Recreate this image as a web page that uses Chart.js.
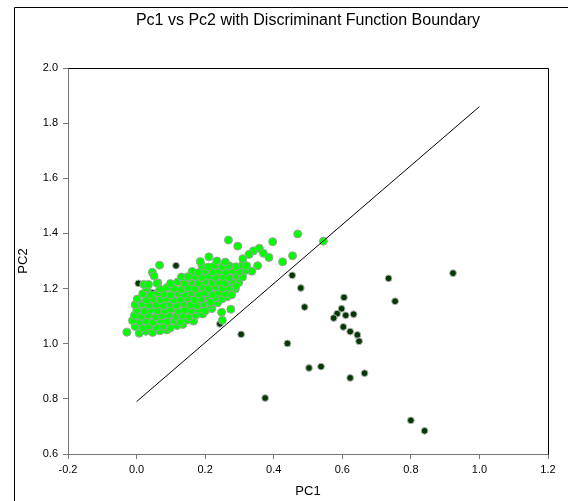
<!DOCTYPE html>
<html>
<head>
<meta charset="utf-8">
<script src="https://cdn.jsdelivr.net/npm/chart.js@4.4.0/dist/chart.umd.min.js"></script>
<style>
html, body { margin: 0; padding: 0; background: #fff; overflow: hidden; }
</style>
</head>
<body>
<canvas id="pcChart" width="568" height="501"></canvas>
<script>
// axis ticks
var xTicks = [-0.2, 0.0, 0.2, 0.4, 0.6, 0.8, 1.0, 1.2];
var yTicks = [0.6, 0.8, 1.0, 1.2, 1.4, 1.6, 1.8, 2.0];

// discriminant function boundary (end points)
var boundaryLine = [[0.0, 0.79], [1.0, 1.86]];

var groupGreen = [
  [-0.028,1.042],[0.008,1.038],[0.027,1.045],[0.047,1.041],[0.068,1.047],[0.088,1.05],
  [-0.004,1.062],[0.018,1.058],[0.036,1.064],[0.057,1.06],[0.079,1.063],[0.098,1.057],[0.118,1.066],[0.135,1.07],
  [-0.012,1.084],[0.009,1.079],[0.029,1.083],[0.049,1.078],[0.071,1.085],[0.09,1.08],[0.11,1.084],[0.128,1.079],[0.148,1.086],[0.166,1.082],
  [-0.006,1.103],[0.014,1.099],[0.034,1.104],[0.056,1.098],[0.074,1.102],[0.094,1.105],[0.115,1.099],[0.133,1.103],[0.154,1.098],[0.173,1.104],[0.193,1.108],
  [0.001,1.122],[0.022,1.118],[0.041,1.124],[0.061,1.119],[0.082,1.121],[0.101,1.126],[0.121,1.118],[0.141,1.123],[0.16,1.12],[0.181,1.125],[0.2,1.119],[0.219,1.127],
  [-0.004,1.141],[0.016,1.145],[0.037,1.139],[0.057,1.142],[0.078,1.138],[0.097,1.144],[0.117,1.14],[0.137,1.146],[0.156,1.141],[0.177,1.138],[0.197,1.145],[0.216,1.141],[0.236,1.148],
  [0.002,1.162],[0.028,1.158],[0.048,1.163],[0.069,1.16],[0.088,1.165],[0.108,1.158],[0.129,1.162],[0.149,1.166],[0.169,1.159],[0.189,1.163],[0.209,1.16],[0.229,1.167],[0.249,1.162],[0.264,1.17],
  [0.018,1.181],[0.04,1.178],[0.061,1.184],[0.079,1.18],[0.1,1.176],[0.121,1.183],[0.14,1.179],[0.161,1.185],[0.18,1.18],[0.2,1.184],[0.221,1.178],[0.24,1.186],[0.259,1.182],
  [0.03,1.201],[0.068,1.198],[0.089,1.204],[0.109,1.2],[0.131,1.196],[0.15,1.203],[0.171,1.199],[0.191,1.205],[0.21,1.2],[0.231,1.206],[0.25,1.201],[0.27,1.204],[0.288,1.198],
  [0.062,1.221],[0.099,1.218],[0.12,1.224],[0.139,1.219],[0.161,1.225],[0.18,1.22],[0.2,1.226],[0.221,1.221],[0.239,1.224],[0.259,1.219],[0.279,1.226],[0.298,1.222],
  [0.131,1.242],[0.152,1.238],[0.171,1.244],[0.19,1.24],[0.211,1.246],[0.23,1.241],[0.251,1.244],[0.27,1.239],[0.291,1.245],[0.309,1.242],
  [0.162,1.262],[0.181,1.258],[0.2,1.265],[0.221,1.26],[0.241,1.264],[0.26,1.259],[0.281,1.265],[0.3,1.261],[0.319,1.266],[0.336,1.263],
  [0.191,1.281],[0.21,1.278],[0.229,1.284],[0.249,1.279],[0.27,1.283],[0.29,1.279],[0.309,1.285],
  [0.186,1.298],[0.211,1.315],[0.234,1.3],[0.259,1.296],
  // loose points
  [0.067,1.285],[0.046,1.259],[0.051,1.246],[0.021,1.215],[0.035,1.215],[0.060,1.219],[0.150,1.243],
  [0.268,1.376],[0.295,1.354],[0.397,1.370],[0.470,1.398],[0.341,1.337],[0.358,1.346],[0.328,1.324],
  [0.370,1.328],[0.386,1.313],[0.310,1.308],[0.426,1.297],[0.455,1.319],[0.353,1.283],[0.321,1.283],
  [0.545,1.372],[0.277,1.177],[0.290,1.209],[0.248,1.114],[0.275,1.125],[0.214,1.150],[0.25,1.085]
];

// group 2 (dark green)
var groupDark = [
  [0.454,1.248],[0.479,1.202],[0.490,1.133],[0.440,1.001],[0.503,0.912],[0.538,0.917],
  [0.605,1.168],[0.598,1.127],[0.585,1.109],[0.575,1.093],[0.610,1.103],[0.633,1.107],
  [0.603,1.061],[0.623,1.044],[0.644,1.032],[0.649,1.009],[0.623,0.876],[0.665,0.893],
  [0.735,1.237],[0.754,1.154],[0.923,1.256],[0.800,0.722],[0.840,0.684],[0.375,0.803],
  [0.305,1.034],[0.115,1.283],[0.005,1.219],[0.045,1.185],[0.243,1.072]
];

function toPoints(arr) {
  return arr.map(function (p) { return { x: p[0], y: p[1] }; });
}

var framePlugin = {
  id: 'frame',
  afterLayout: function (chart) {
    // centre the title over the plot area
    var t = chart.titleBlock, a = chart.chartArea;
    if (t) { t.left = a.left; t.right = a.right; }
  },
  beforeDraw: function (chart) {
    var c = chart.ctx;
    c.save();
    c.fillStyle = '#fff';
    c.fillRect(0, 0, chart.width, chart.height);
    c.strokeStyle = '#000';
    c.lineWidth = 1;
    c.beginPath();
    c.moveTo(14.5, chart.height);
    c.lineTo(14.5, 7.5);
    c.lineTo(chart.width, 7.5);
    c.stroke();
    c.restore();
  },
  afterDraw: function (chart) {
    var c = chart.ctx, a = chart.chartArea;
    c.save();
    c.strokeStyle = '#000';
    c.lineWidth = 1;
    c.beginPath();
    c.moveTo(Math.round(a.left) + 0.5, Math.round(a.top) + 0.5);
    c.lineTo(Math.round(a.right) + 0.5, Math.round(a.top) + 0.5);
    c.lineTo(Math.round(a.right) + 0.5, Math.round(a.bottom) + 0.5);
    c.stroke();
    c.restore();
  }
};

var fontFam = "'Liberation Sans', Arial, sans-serif";

var ctx = document.getElementById('pcChart');
var pcChart = new Chart(ctx, {
  type: 'scatter',
  data: {
    datasets: [{
      label: 'Boundary',
      data: toPoints(boundaryLine),
      showLine: true,
      borderColor: '#000',
      borderWidth: 1,
      pointRadius: 0,
      order: 0
    }, {
      label: 'Group 1',
      data: toPoints(groupGreen),
      backgroundColor: '#00ff00',
      borderColor: '#a0a0a0',
      borderWidth: 1,
      pointRadius: 4,
      order: 1
    }, {
      label: 'Group 2',
      data: toPoints(groupDark),
      backgroundColor: '#063806',
      borderColor: '#b8b8b8',
      borderWidth: 1,
      pointRadius: 3.4,
      order: 2
    }]
  },
  options: {
    responsive: false,
    animation: false,
    devicePixelRatio: 1,
    layout: { padding: { left: 0, right: 20, top: 0, bottom: 0 } },
    plugins: {
      legend: { display: false },
      tooltip: { enabled: false },
      title: {
        display: true,
        text: 'Pc1 vs Pc2 with Discriminant Function Boundary',
        color: '#000',
        font: { family: fontFam, size: 16, weight: 'normal' },
        padding: { top: 11, bottom: 37.8 }
      }
    },
    scales: {
      x: {
        type: 'linear',
        min: -0.2,
        max: 1.2,
        afterBuildTicks: function (s) { s.ticks = xTicks.map(function (v) { return { value: v }; }); },
        afterFit: function (s) { s.height = 47; },
        ticks: {
          color: '#000',
          font: { family: fontFam, size: 11 },
          padding: 4,
          maxRotation: 0,
          autoSkip: false,
          callback: function (v) { return Number(v).toFixed(1); }
        },
        grid: { drawOnChartArea: false, tickLength: 5, color: '#777' },
        border: { color: '#777', width: 1 },
        title: {
          display: true,
          text: 'PC1',
          color: '#000',
          font: { family: fontFam, size: 13 },
          padding: { top: 0, bottom: 2 }
        }
      },
      y: {
        type: 'linear',
        min: 0.6,
        max: 2.0,
        afterBuildTicks: function (s) { s.ticks = yTicks.map(function (v) { return { value: v }; }); },
        afterFit: function (s) { s.width = 68; },
        ticks: {
          color: '#000',
          font: { family: fontFam, size: 11 },
          padding: 5,
          autoSkip: false,
          callback: function (v) { return Number(v).toFixed(1); }
        },
        grid: { drawOnChartArea: false, tickLength: 5, color: '#777' },
        border: { color: '#777', width: 1 },
        title: {
          display: true,
          text: 'PC2',
          color: '#000',
          font: { family: fontFam, size: 13 },
          padding: { top: 16, bottom: 0 }
        }
      }
    }
  },
  plugins: [framePlugin]
});
</script>
</body>
</html>
